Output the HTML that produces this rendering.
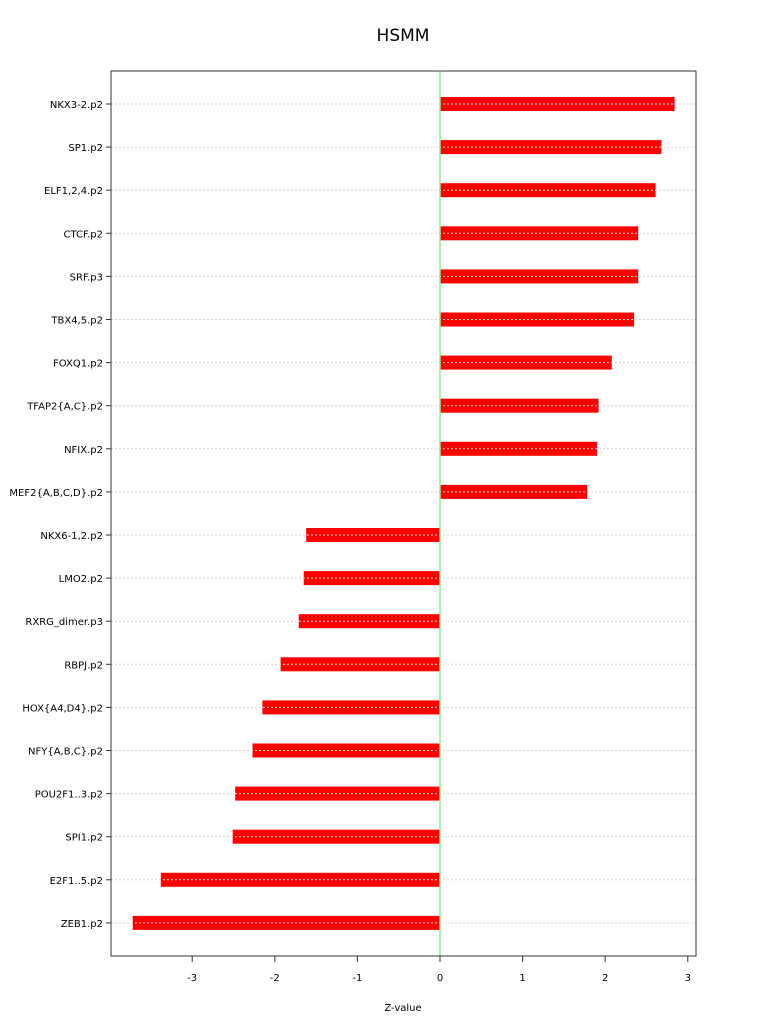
<!DOCTYPE html>
<html><head><meta charset="utf-8"><style>
body{margin:0;background:#fff;}
svg text{font-family:"DejaVu Sans","Liberation Sans",sans-serif;}
</style></head><body>
<svg id="chart" width="768" height="1028" xmlns="http://www.w3.org/2000/svg">
<rect width="768" height="1028" fill="#fff"/>
<text x="403" y="41" font-size="17" text-anchor="middle">HSMM</text>
<text x="403" y="1011" font-size="10" text-anchor="middle">Z-value</text>
<g id="bars"></g><g id="grid"></g><g id="labels"></g><g id="ticks"></g>
<line x1="440" y1="71" x2="440" y2="956" stroke="#90ee90" stroke-width="1.5"/>
<rect x="111" y="71" width="585" height="885" fill="none" stroke="#333"/>
</svg>
<script>
const categories=["NKX3-2.p2","SP1.p2","ELF1,2,4.p2","CTCF.p2","SRF.p3","TBX4,5.p2","FOXQ1.p2","TFAP2{A,C}.p2","NFIX.p2","MEF2{A,B,C,D}.p2","NKX6-1,2.p2","LMO2.p2","RXRG_dimer.p3","RBPJ.p2","HOX{A4,D4}.p2","NFY{A,B,C}.p2","POU2F1..3.p2","SPI1.p2","E2F1..5.p2","ZEB1.p2"];
const values=[2.84,2.68,2.61,2.40,2.40,2.35,2.08,1.92,1.90,1.78,-1.62,-1.65,-1.71,-1.93,-2.15,-2.27,-2.48,-2.51,-3.38,-3.72];
const ticks=[-3,-2,-1,0,1,2,3];
const NS="http://www.w3.org/2000/svg";
const xs=v=>440+v*82.6;
const ys=i=>104+i*43.1;
function mk(t,a,p){const e=document.createElementNS(NS,t);for(const k in a)e.setAttribute(k,a[k]);p.appendChild(e);return e;}
const g=document.getElementById('grid'),b=document.getElementById('bars'),l=document.getElementById('labels'),tk=document.getElementById('ticks');
categories.forEach((c,i)=>{
 const y=ys(i);
 const gl=mk('line',{x1:111,x2:696,y1:y,y2:y,stroke:'#d3d3d3','stroke-dasharray':'2,2'},g);
 
 
 const v=values[i];
 const r=mk('rect',{x:Math.min(xs(0),xs(v)),y:y-7,width:Math.abs(xs(v)-xs(0)),height:14,fill:'#ff0000'},b);
 
 
 mk('line',{x1:106,x2:111,y1:y,y2:y,stroke:'#333'},tk);
 const t=mk('text',{x:103,y:y+4,'font-size':10,'text-anchor':'end'},l);
 t.textContent=c;
 
 
});
ticks.forEach(v=>{
 const x=xs(v);
 mk('line',{x1:x,x2:x,y1:956,y2:962,stroke:'#333'},tk);
 const t=mk('text',{x:x,y:981,'font-size':10,'text-anchor':'middle'},tk);
 t.textContent=v;
 
 
});
</script>
</body></html>
